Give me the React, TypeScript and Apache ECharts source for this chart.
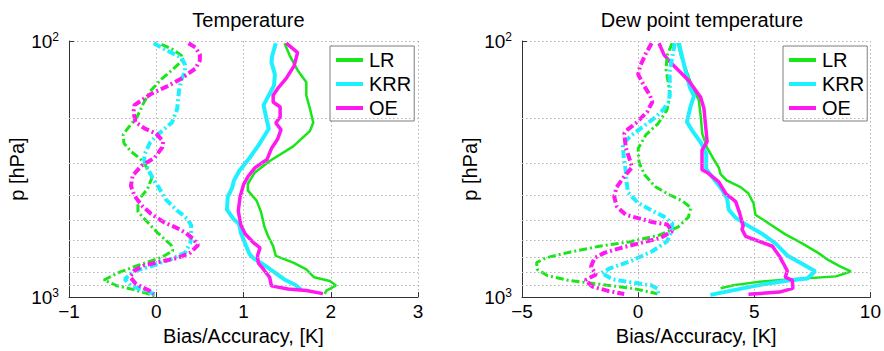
import React, { useEffect, useRef } from "react";
import * as echarts from "echarts";

// ---- data: [value, pressure hPa] ----
const methods = ["LR", "KRR", "OE"];
const colors = ["#19e619", "#1ef0ff", "#ff19f0"];
const panelTitles = ["Temperature", "Dew point temperature"];
const xLabel = "Bias/Accuracy, [K]";
const yLabel = "p [hPa]";
const minorPressure = [200, 300, 400, 500, 600, 700, 800, 900];

const tempAccLR = [[1.47,102],[1.53,114],[1.62,130],[1.72,145],[1.72,163],[1.76,183],[1.80,208],[1.76,225],[1.57,258],[1.30,294],[1.13,326],[1.05,361],[1.05,383],[1.15,420],[1.20,464],[1.24,531],[1.28,576],[1.34,632],[1.37,690],[1.57,733],[1.72,780],[1.81,837],[1.99,865],[2.06,901],[1.95,943],[1.93,972]];
const tempAccKRR = [[1.37,102],[1.33,114],[1.32,121],[1.36,135],[1.35,149],[1.23,178],[1.26,199],[1.29,220],[1.18,253],[1.06,289],[0.95,322],[0.89,351],[0.87,374],[0.82,406],[0.81,455],[0.88,493],[0.95,519],[0.97,562],[1.03,632],[1.07,680],[1.11,703],[1.23,747],[1.34,794],[1.48,858],[1.60,899],[1.66,936]];
const tempAccOE = [[1.49,102],[1.62,111],[1.58,125],[1.49,140],[1.40,152],[1.34,163],[1.34,173],[1.42,181],[1.42,198],[1.37,209],[1.43,222],[1.39,242],[1.32,263],[1.27,290],[1.13,313],[1.05,339],[1.00,364],[0.96,407],[0.94,461],[0.97,524],[1.02,567],[1.11,611],[1.19,642],[1.16,690],[1.17,737],[1.23,780],[1.30,837],[1.32,904],[1.51,930],[1.72,942],[1.91,969]];
const tempBiasLR = [[0.06,103],[0.19,108],[0.29,114],[0.29,120],[0.19,129],[0.06,141],[-0.07,157],[-0.15,176],[-0.22,198],[-0.32,218],[-0.38,232],[-0.37,251],[-0.29,270],[-0.19,287],[-0.13,303],[-0.05,342],[-0.10,378],[-0.21,420],[-0.21,464],[-0.11,506],[0.02,563],[0.17,626],[0.19,659],[0.06,700],[-0.21,752],[-0.44,804],[-0.60,858],[-0.45,903],[-0.27,933],[-0.13,962],[-0.02,990]];
const tempBiasKRR = [[-0.03,102],[0.06,106],[0.17,111],[0.29,116],[0.33,124],[0.33,132],[0.29,141],[0.26,157],[0.24,184],[0.18,208],[0.03,230],[-0.07,249],[-0.13,275],[-0.14,292],[-0.09,319],[-0.03,348],[0.03,374],[0.11,416],[0.24,459],[0.36,496],[0.40,524],[0.40,572],[0.39,614],[0.33,671],[0.18,708],[-0.03,752],[-0.26,794],[-0.36,851],[-0.29,903],[-0.13,944],[-0.02,974]];
const tempBiasOE = [[0.37,102],[0.45,106],[0.50,113],[0.50,119],[0.45,128],[0.29,140],[0.13,150],[-0.06,161],[-0.14,168],[-0.25,178],[-0.26,189],[-0.24,207],[-0.13,220],[0.00,230],[0.08,247],[0.07,260],[-0.02,286],[-0.17,307],[-0.27,335],[-0.29,368],[-0.25,402],[-0.16,441],[-0.06,473],[0.09,511],[0.24,538],[0.34,562],[0.42,591],[0.48,626],[0.39,671],[0.24,704],[0.06,726],[-0.14,752],[-0.25,787],[-0.30,834],[-0.24,883],[-0.16,916],[-0.08,942],[-0.03,974]];

const dewAccLR = [[1.71,102],[1.84,114],[2.06,129],[2.36,154],[2.61,170],[2.70,199],[2.76,230],[2.96,260],[3.25,289],[3.47,312],[3.55,331],[3.81,350],[4.41,372],[4.75,394],[4.97,431],[5.05,477],[5.61,515],[6.34,569],[7.02,614],[7.75,672],[8.18,716],[8.69,759],[9.16,794],[8.52,830],[6.47,853],[5.18,872],[4.11,899],[3.55,923]];
const dewAccKRR = [[1.76,102],[1.88,114],[2.06,133],[2.23,152],[2.40,164],[2.25,181],[2.10,207],[2.36,226],[2.72,251],[2.93,275],[2.93,317],[3.25,345],[3.64,384],[3.83,412],[3.90,456],[4.18,488],[4.63,520],[5.31,564],[5.91,617],[6.42,688],[7.11,746],[7.62,792],[7.28,846],[6.47,861],[5.31,894],[4.33,931],[3.11,980]];
const dewAccOE = [[0.90,102],[1.11,113],[1.46,123],[1.84,133],[2.18,143],[2.69,166],[2.83,183],[2.90,212],[2.97,247],[2.75,267],[2.75,318],[2.97,326],[3.47,355],[3.77,394],[4.20,424],[4.37,470],[4.52,528],[4.47,544],[4.63,579],[5.18,604],[5.78,633],[6.08,692],[6.25,738],[6.42,790],[6.33,836],[6.64,860],[6.66,925],[6.08,956],[4.75,975]];
const dewBiasLR = [[1.46,102],[1.25,114],[1.20,129],[1.31,148],[1.37,163],[1.24,186],[0.86,210],[0.34,232],[0.00,263],[0.04,298],[0.28,333],[0.73,370],[1.28,396],[1.88,420],[2.27,447],[2.16,488],[1.71,533],[0.90,573],[-0.39,609],[-1.67,633],[-2.96,668],[-3.98,703],[-4.37,733],[-4.35,778],[-3.90,825],[-2.96,862],[-1.67,890],[-0.17,927],[0.83,971]];
const dewBiasKRR = [[1.58,102],[1.48,114],[1.35,132],[1.37,154],[1.33,172],[1.11,184],[0.73,199],[0.21,216],[-0.30,234],[-0.66,253],[-0.62,284],[-0.53,324],[-0.51,351],[-0.43,391],[-0.02,427],[0.51,455],[1.11,485],[1.47,515],[1.43,555],[1.24,606],[0.61,662],[-0.30,722],[-1.24,774],[-1.58,805],[-1.11,852],[-0.31,876],[0.56,899],[0.83,926],[0.88,980]];
const dewBiasOE = [[0.58,102],[0.33,112],[0.09,125],[0.00,135],[0.26,150],[0.51,163],[0.61,173],[0.39,189],[-0.03,207],[-0.46,222],[-0.60,230],[-0.53,261],[-0.34,295],[-0.26,311],[-0.64,342],[-0.94,374],[-1.03,406],[-0.92,443],[-0.53,477],[0.04,493],[0.61,509],[1.25,521],[1.47,553],[0.97,587],[0.12,614],[-0.81,645],[-1.46,672],[-1.88,704],[-2.03,761],[-1.81,816],[-2.27,858],[-1.97,910],[-1.33,944],[-0.60,973]];

const xRanges = [
  { min: -1, max: 3, interval: 1 },
  { min: -5, max: 10, interval: 5 },
];

const FONT = "'Liberation Sans', Arial, Helvetica, sans-serif";
const AXIS_COLOR = "#333333";
const GRID_COLOR = "#b4b4b4";
const DOTS = [1.5, 2.5];
const accWidths = [2.5, 4, 3.5];
const biasWidths = [3, 4, 4];
const DASHDOT = [8, 3, 2, 3];

export default function App() {
  const ref = useRef<HTMLDivElement>(null);
  useEffect(() => {
    if (!ref.current) return;
    const chart = echarts.init(ref.current, null, { renderer: "svg" });
    const grids = [
      { left: 69, top: 41, width: 349, height: 260 },
      { left: 522, top: 41, width: 350, height: 260 },
    ];
    const panels = [
      { acc: [tempAccLR, tempAccKRR, tempAccOE], bias: [tempBiasLR, tempBiasKRR, tempBiasOE] },
      { acc: [dewAccLR, dewAccKRR, dewAccOE], bias: [dewBiasLR, dewBiasKRR, dewBiasOE] },
    ];
    const series: any[] = [];
    panels.forEach((pn, gi) => {
      series.push({
        type: "line",
        name: "grid" + gi,
        xAxisIndex: gi,
        yAxisIndex: gi,
        data: [],
        z: 1,
        silent: true,
        markLine: {
          silent: true,
          symbol: ["none", "none"],
          label: { show: false },
          animation: false,
          lineStyle: { type: DOTS, color: GRID_COLOR, width: 1 },
          data: minorPressure.map((p) => ({ yAxis: p })),
        },
      });
      pn.acc.forEach((d, i) => {
        series.push({
          type: "line",
          name: methods[i],
          xAxisIndex: gi,
          yAxisIndex: gi,
          data: d,
          symbol: "none",
          showSymbol: false,
          color: colors[i],
          itemStyle: { color: colors[i] },
          lineStyle: { color: colors[i], width: accWidths[i], type: "solid" },
          z: 3,
        });
      });
      pn.bias.forEach((d, i) => {
        series.push({
          type: "line",
          name: methods[i] + " bias",
          xAxisIndex: gi,
          yAxisIndex: gi,
          data: d,
          symbol: "none",
          showSymbol: false,
          color: colors[i],
          lineStyle: { color: colors[i], width: biasWidths[i], type: DASHDOT, cap: "butt" },
          z: 3,
        });
      });
    });

    const option: any = {
      animation: false,
      textStyle: { fontFamily: FONT },
      title: panelTitles.map((t, gi) => ({
        text: t,
        left: grids[gi].left + grids[gi].width / 2,
        top: 5,
        textAlign: "center",
        textStyle: { fontFamily: FONT, fontSize: 20, fontWeight: "normal", color: "#000" },
      })),
      legend: grids.map((g, gi) => ({
        data: methods,
        orient: "vertical",
        left: gi === 0 ? 330 : 783,
        top: 46,
        icon: "rect",
        itemWidth: 27,
        itemHeight: 4,
        itemGap: 4,
        padding: [4, 3, 3, 6],
        backgroundColor: "#fff",
        borderColor: "#7f7f7f",
        borderWidth: 1,
        borderRadius: 0,
        selectedMode: false,
        textStyle: { fontFamily: FONT, fontSize: 20, color: "#000", lineHeight: 20, padding: [0, 0, 0, 1] },
      })),
      grid: grids.map((g) => ({ ...g, containLabel: false })),
      xAxis: xRanges.map((r, gi) => ({
        type: "value",
        gridIndex: gi,
        min: r.min,
        max: r.max,
        interval: r.interval,
        name: xLabel,
        nameLocation: "middle",
        nameGap: 24,
        nameTextStyle: { fontFamily: FONT, fontSize: 20, color: "#000" },
        axisLine: { show: true, onZero: false, lineStyle: { color: AXIS_COLOR, width: 1 } },
        axisTick: { show: true, inside: true, length: 5, lineStyle: { color: AXIS_COLOR } },
        axisLabel: {
          margin: 5,
          fontFamily: FONT,
          fontSize: 19,
          color: "#000",
          formatter: (v: number) => String(v).replace("-", "\u2212"),
        },
        splitLine: { show: true, lineStyle: { type: DOTS, color: GRID_COLOR, width: 1 } },
      })),
      yAxis: grids.map((g, gi) => ({
        type: "log",
        logBase: 10,
        gridIndex: gi,
        min: 100,
        max: 1000,
        inverse: true,
        name: yLabel,
        nameLocation: "middle",
        nameGap: 36,
        nameRotate: 90,
        nameTextStyle: { fontFamily: FONT, fontSize: 20, color: "#000" },
        axisLine: { show: true, onZero: false, lineStyle: { color: AXIS_COLOR, width: 1 } },
        axisTick: { show: true, inside: true, length: 5, lineStyle: { color: AXIS_COLOR } },
        axisLabel: {
          margin: 10,
          fontFamily: FONT,
          color: "#000",
          formatter: (v: number) => "{a|10}{b|" + Math.round(Math.log10(v)) + "}",
          rich: {
            a: { fontFamily: FONT, fontSize: 19, lineHeight: 20, color: "#000" },
            b: { fontFamily: FONT, fontSize: 12, lineHeight: 12, verticalAlign: "top", color: "#000" },
          },
        },
        splitLine: { show: true, lineStyle: { type: DOTS, color: GRID_COLOR, width: 1 } },
      })),
      series,
    };
    chart.setOption(option);
    return () => chart.dispose();
  }, []);
  return (
    <div
      ref={ref}
      style={{ position: "fixed", left: 0, top: 0, width: 884, height: 351, background: "#fff" }}
    />
  );
}
